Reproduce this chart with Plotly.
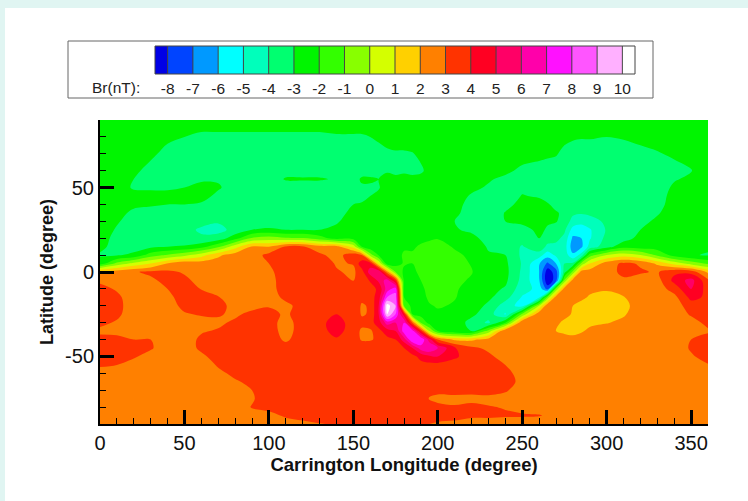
import plotly.graph_objects as go

# Latitude rows (deg), top to bottom
latitudes = [90,80,70,60,55, 50,45,40,35,30, 25,20,15,10,5, 0,-5,-10,-15,-20, -25,-30,-35,-40,-45, -50,-55,-60,-65,-70, -75,-80,-85,-90]

# Br (nT), one column per Carrington longitude
br_000 = [-2.5,-2.5,-2.5,-2.5,-2.5, -2.5,-2.5,-2.5,-2.5,-2.5, -2.5,-2.6,-2.8,-3.1,-2.6, 2.4,2.8,3.3,3.5,3.5, 3.4,3.2,2.8,3.3,3.6, 3.5,3.1,2.7,2.5,2.5, 2.5,2.5,2.5,2.5]
br_010 = [-2.5,-2.5,-2.5,-2.5,-2.5, -2.6,-2.6,-2.6,-2.7,-2.9, -3.1,-3.3,-3.3,-3.1,-0.7, 2.6,2.6,2.9,3.2,3.3, 3.2,2.9,2.8,3.2,3.5, 3.4,3.0,2.7,2.5,2.5, 2.5,2.5,2.5,2.5]
br_020 = [-2.5,-2.5,-2.5,-2.8,-3.0, -3.1,-2.7,-2.8,-3.2,-3.4, -3.5,-3.5,-3.4,-2.8,0.3, 2.9,2.5,2.5,2.5,2.5, 2.5,2.5,2.6,3.0,3.4, 3.1,2.7,2.5,2.5,2.5, 2.5,2.5,2.5,2.5]
br_030 = [-2.5,-2.5,-2.8,-3.3,-3.3, -3.1,-2.8,-2.9,-3.3,-3.5, -3.6,-3.6,-3.2,-1.5,1.0, 3.2,2.8,2.5,2.5,2.5, 2.5,2.5,2.6,3.0,3.1, 2.7,2.5,2.5,2.5,2.5, 2.5,2.5,2.5,2.5]
br_040 = [-2.5,-2.8,-3.3,-3.5,-3.4, -3.1,-2.8,-3.0,-3.4,-3.6, -3.7,-3.7,-3.0,-0.9,2.1, 3.2,3.3,3.0,2.7,2.5, 2.5,2.5,2.5,2.5,2.5, 2.5,2.5,2.5,2.5,2.5, 2.5,2.5,2.5,2.5]
br_050 = [-2.5,-3.0,-3.4,-3.6,-3.3, -3.0,-2.7,-3.0,-3.5,-3.7, -3.8,-3.7,-2.9,-0.3,2.7, 2.9,3.2,3.5,3.5,3.3, 2.9,2.6,2.5,2.5,2.5, 2.5,2.5,2.5,2.5,2.5, 2.5,2.5,2.5,2.5]
br_060 = [-2.5,-3.2,-3.6,-3.7,-3.1, -2.8,-2.7,-3.1,-3.5,-3.8, -4.1,-3.9,-2.4,0.6,2.5, 2.5,2.7,2.95,3.4,3.5, 3.1,2.6,2.9,3.2,3.2, 2.8,2.5,2.5,2.5,2.5, 2.5,2.5,2.5,2.5]
br_070 = [-2.5,-3.2,-3.6,-3.7,-3.1, -2.9,-3.2,-3.4,-3.6,-3.9, -4.3,-3.6,-1.2,1.8,2.5, 2.5,2.5,2.6,3.05,3.5, 3.1,2.8,3.1,3.5,3.6, 3.4,3.1,2.8,2.6,2.5, 2.5,2.5,2.5,2.5]
br_080 = [-2.5,-3.2,-3.6,-3.7,-3.5, -3.4,-3.5,-3.6,-3.7,-3.8, -3.7,-2.4,0.6,2.5,2.5, 2.5,2.5,2.5,2.5,2.5, 2.8,3.2,3.5,3.6,3.6, 3.6,3.6,3.2,2.9,2.6, 2.5,2.5,2.5,2.5]
br_090 = [-2.5,-3.2,-3.6,-3.7,-3.6, -3.6,-3.6,-3.6,-3.6,-3.7, -3.0,-0.9,2.1,2.5,2.5, 2.5,2.5,2.5,2.5,2.6, 3.3,3.5,3.6,3.6,3.6, 3.6,3.6,3.5,3.2,3.0, 2.9,3.05,2.7,2.5]
br_100 = [-2.5,-3.2,-3.6,-3.7,-3.6, -3.6,-3.6,-3.6,-3.6,-3.7, -2.8,-0.5,2.0,3.3,3.0, 2.7,2.5,2.5,2.6,2.9, 3.4,3.5,3.6,3.6,3.6, 3.6,3.6,3.6,3.6,3.6, 3.5,3.2,2.8,2.5]
br_110 = [-2.5,-3.2,-3.6,-3.4,-2.9, -3.5,-3.6,-3.6,-3.6,-3.6, -3.0,-0.9,3.1,3.6,3.7, 3.7,3.7,3.6,3.2,2.8, 2.8,2.5,2.5,2.8,3.5, 3.6,3.6,3.6,3.6,3.6, 3.6,3.5,3.1,2.7]
br_120 = [-2.5,-3.2,-3.6,-3.4,-2.9, -3.5,-3.6,-3.6,-3.6,-3.5, -3.0,-0.9,3.1,3.6,3.7, 3.7,3.7,3.6,3.4,3.3, 3.6,3.6,3.6,3.6,3.6, 3.6,3.6,3.6,3.6,3.6, 3.6,3.6,3.3,2.8]
br_130 = [-2.5,-3.2,-3.6,-3.4,-2.9, -3.5,-3.6,-3.6,-3.5,-3.3, -3.0,-1.6,2.4,3.2,3.6, 3.7,3.7,3.7,3.7,3.7, 3.7,3.8,3.7,3.7,3.7, 3.7,3.7,3.7,3.7,3.7, 3.7,3.7,3.6,2.95]
br_140 = [-2.5,-3.1,-3.5,-3.4,-3.1, -3.5,-3.6,-3.5,-3.4,-3.1, -2.8,-2.4,2.4,2.6,2.9, 3.1,3.6,3.7,3.7,3.7, 4.0,4.3,4.3,3.9,3.7, 3.7,3.7,3.7,3.7,3.7, 3.7,3.7,3.7,3.1]
br_150 = [-2.5,-3.1,-3.5,-3.4,-3.3, -3.5,-3.4,-3.0,-2.7,-2.6, -2.5,-2.4,0.6,3.6,3.05, 2.8,2.95,3.5,3.6,3.6, 3.7,3.7,3.6,3.5,3.6, 3.7,3.7,3.7,3.7,3.7, 3.7,3.7,3.7,3.4]
br_155 = [-2.5,-3.1,-3.4,-3.3,-2.9, -3.1,-3.3,-2.9,-2.6,-2.5, -2.5,-2.5,-2.0,3.0,4.6, 3.6,3.4,3.6,3.2,2.9, 2.9,3.3,2.8,2.9,3.6, 3.7,3.7,3.7,3.7,3.7, 3.7,3.7,3.7,3.5]
br_160 = [-2.5,-3.0,-3.3,-3.3,-2.9, -3.1,-3.0,-2.7,-2.5,-2.5, -2.5,-2.5,-2.7,-0.5,4.5, 5.5,4.1,3.6,3.5,3.1, 3.1,3.6,2.8,2.9,3.6, 3.7,3.7,3.7,3.7,3.7, 3.7,3.7,3.7,3.5]
br_165 = [-2.5,-2.9,-3.2,-3.3,-3.0, -3.05,-2.85,-2.6,-2.5,-2.5, -2.5,-2.5,-2.5,-2.1,0.9, 6.0,5.2,4.2,4.5,5.0, 5.0,4.5,3.7,3.2,3.6, 3.7,3.7,3.7,3.7,3.7, 3.7,3.7,3.7,3.6]
br_170 = [-2.5,-2.7,-3.15,-3.05,-2.85, -2.7,-2.6,-2.5,-2.5,-2.5, -2.5,-2.5,-2.5,-2.4,-2.5, 2.5,6.5,6.5,8.0,10.5, 10.0,6.5,4.5,3.7,3.6, 3.6,3.6,3.6,3.6,3.6, 3.6,3.6,3.6,3.6]
br_175 = [-2.5,-2.6,-3.1,-3.1,-2.9, -2.7,-2.6,-2.5,-2.5,-2.5, -2.5,-2.5,-2.4,-2.3,-2.4, -1.0,4.0,7.5,8.5,9.0, 8.0,6.0,5.0,4.0,3.7, 3.6,3.6,3.6,3.6,3.6, 3.6,3.6,3.6,3.6]
br_180 = [-2.5,-2.6,-3.1,-3.1,-2.8, -2.6,-2.5,-2.5,-2.5,-2.5, -2.4,-2.3,-2.1,-1.9,-1.9, -2.2,-2.2,-2.2,-2.0,-1.0, 4.5,7.0,7.5,5.5,4.0, 3.7,3.6,3.6,3.6,3.6, 3.6,3.6,3.6,3.6]
br_185 = [-2.5,-2.5,-3.05,-3.2,-2.8, -2.6,-2.5,-2.5,-2.5,-2.5, -2.4,-2.3,-2.1,-1.9,-2.0, -2.2,-2.3,-2.4,-2.4,-2.4, -2.0,3.0,7.5,8.0,5.0, 3.7,3.6,3.6,3.6,3.6, 3.6,3.6,3.6,3.6]
br_190 = [-2.5,-2.5,-2.8,-3.15,-2.7, -2.6,-2.5,-2.5,-2.5,-2.5, -2.5,-2.2,-1.9,-1.7,-1.7, -1.8,-2.0,-2.3,-2.4,-2.4, -2.4,-1.0,4.0,8.0,6.5, 4.3,3.7,3.6,3.6,3.6, 3.6,3.6,3.6,3.4]
br_195 = [-2.5,-2.5,-2.6,-2.7,-2.6, -2.5,-2.5,-2.5,-2.5,-2.5, -2.3,-2.15,-1.7,-1.5,-1.5, -1.5,-1.5,-1.6,-1.8,-2.1, -2.4,-2.4,0.0,5.5,7.0, 4.8,3.7,3.6,3.6,3.2, 2.95,3.3,3.3,3.0]
br_200 = [-2.5,-2.5,-2.5,-2.6,-2.6, -2.5,-2.5,-2.5,-2.5,-2.5, -2.4,-2.05,-1.6,-1.5,-1.5, -1.5,-1.5,-1.6,-1.7,-1.9, -2.2,-2.4,-2.0,3.0,6.0, 5.0,3.7,3.6,3.6,3.2, 2.8,3.2,3.3,2.9]
br_210 = [-2.5,-2.5,-2.5,-2.5,-2.6, -2.6,-2.6,-2.7,-2.8,-3.0, -2.9,-2.5,-2.1,-1.8,-1.7, -1.7,-1.8,-1.9,-1.95,-2.1, -2.3,-2.5,-2.7,1.8,4.1, 4.2,3.5,3.6,3.6,3.4, 2.7,3.1,3.3,2.8]
br_220 = [-2.5,-2.5,-2.5,-2.5,-2.6, -2.8,-3.1,-3.3,-3.4,-3.4, -3.2,-2.7,-2.4,-2.2,-2.05, -1.95,-2.1,-2.3,-2.4,-2.5, -2.8,-3.3,-3.0,1.8,3.2, 3.4,3.6,3.6,3.6,3.2, 2.8,3.2,3.2,2.5]
br_230 = [-2.5,-2.5,-2.5,-2.7,-2.9, -3.1,-3.4,-3.5,-3.6,-3.6, -3.5,-3.4,-3.1,-2.9,-2.8, -2.7,-2.6,-2.7,-2.8,-3.2, -3.5,-4.2,-0.6,2.4,2.8, 3.2,3.4,3.4,3.4,3.3, 2.8,3.05,3.2,2.5]
br_240 = [-2.5,-2.5,-2.5,-2.8,-3.2, -3.5,-3.5,-3.3,-2.95,-3.0, -3.4,-3.6,-3.3,-3.0,-2.8, -2.7,-2.8,-3.1,-3.6,-4.5, -5.1,-2.0,3.0,2.5,2.5, 2.6,3.0,3.3,3.3,3.1, 2.7,2.95,3.1,2.5]
br_250 = [-2.5,-2.5,-2.6,-3.2,-3.4, -3.2,-2.95,-2.7,-2.7,-2.8, -3.3,-3.6,-4.1,-4.2,-4.1, -4.2,-4.3,-4.6,-5.1,-5.4, -0.8,3.0,2.5,2.5,2.5, 2.5,2.5,2.6,2.8,2.6, 2.5,2.7,3.1,2.5]
br_260 = [-2.5,-2.5,-2.7,-3.4,-3.5, -3.4,-3.1,-2.7,-2.6,-2.6, -2.8,-3.0,-3.2,-4.6,-5.9, -6.0,-5.9,-5.3,-5.2,0.0, 2.8,2.5,2.5,2.5,2.5, 2.5,2.5,2.5,2.5,2.5, 2.5,2.6,3.05,2.5]
br_265 = [-2.5,-2.5,-2.8,-3.5,-3.5, -3.5,-3.4,-2.9,-2.7,-2.9, -3.1,-3.4,-4.3,-5.5,-7.2, -8.6,-8.8,-7.4,-0.7,2.8, 2.5,2.5,2.5,2.5,2.5, 2.5,2.5,2.5,2.5,2.5, 2.5,2.5,2.9,2.5]
br_270 = [-2.5,-2.5,-2.9,-3.6,-3.6, -3.6,-3.6,-3.3,-2.9,-2.95, -3.3,-3.7,-4.3,-4.8,-6.0, -7.5,-7.5,-0.7,2.5,2.5, 2.4,2.2,2.0,2.4,2.5, 2.5,2.5,2.5,2.5,2.5, 2.5,2.5,2.6,2.5]
br_275 = [-2.5,-2.7,-3.3,-3.7,-3.7, -3.7,-3.7,-3.6,-3.2,-3.3, -3.8,-4.3,-4.5,-4.4,-4.0, -3.4,-0.7,2.5,2.5,2.5, 2.3,1.8,1.8,2.4,2.5, 2.5,2.5,2.5,2.5,2.5, 2.5,2.5,2.5,2.5]
br_280 = [-2.5,-2.8,-3.7,-3.7,-3.7, -3.7,-3.7,-3.7,-3.8,-4.4, -5.4,-6.2,-6.6,-5.8,-3.8, -0.7,2.5,2.5,2.4,2.0, 1.9,1.7,1.7,2.3,2.5, 2.5,2.5,2.5,2.5,2.5, 2.5,2.5,2.5,2.5]
br_285 = [-2.5,-2.9,-3.7,-3.7,-3.7, -3.7,-3.7,-3.7,-3.9,-4.7, -5.5,-6.0,-6.2,-4.6,-0.7, 2.5,2.5,2.5,2.2,1.7, 1.6,1.6,1.9,2.4,2.5, 2.5,2.5,2.5,2.5,2.5, 2.5,2.5,2.5,2.5]
br_290 = [-2.5,-2.9,-3.6,-3.7,-3.7, -3.7,-3.7,-3.7,-3.8,-4.4, -5.1,-5.1,-4.6,-1.5,1.0, 2.5,2.4,2.2,1.9,1.6, 1.5,1.8,2.2,2.5,2.5, 2.5,2.5,2.5,2.5,2.5, 2.5,2.5,2.5,2.5]
br_300 = [-2.5,-3.0,-3.6,-3.7,-3.7, -3.7,-3.7,-3.7,-3.7,-3.8, -3.9,-3.7,-3.4,0.0,2.5, 2.5,2.4,2.1,1.7,1.5, 1.5,1.95,2.4,2.5,2.5, 2.5,2.5,2.5,2.5,2.5, 2.5,2.5,2.5,2.5]
br_310 = [-2.5,-2.9,-3.5,-3.7,-3.6, -3.6,-3.6,-3.6,-3.6,-3.6, -3.5,-3.4,-2.4,0.6,3.2, 3.3,2.8,2.4,1.95,1.7, 1.9,2.2,2.5,2.5,2.5, 2.5,2.5,2.5,2.5,2.5, 2.5,2.5,2.5,2.5]
br_320 = [-2.5,-2.7,-3.3,-3.6,-3.6, -3.6,-3.6,-3.6,-3.5,-3.3, -3.0,-2.7,-2.6,0.0,2.9, 3.1,2.6,2.5,2.5,2.5, 2.5,2.5,2.5,2.5,2.5, 2.5,2.5,2.5,2.5,2.5, 2.5,2.5,2.5,2.5]
br_330 = [-2.5,-2.5,-3.1,-3.6,-3.6, -3.6,-3.5,-3.4,-3.1,-2.8, -2.6,-2.5,-2.5,-1.2,1.8, 2.9,2.6,2.5,2.5,2.5, 2.5,2.5,2.5,2.5,2.5, 2.5,2.5,2.5,2.5,2.5, 2.5,2.5,2.5,2.5]
br_340 = [-2.5,-2.5,-2.8,-3.4,-3.1, -2.8,-2.6,-2.5,-2.5,-2.5, -2.5,-2.5,-2.5,-2.4,0.6, 3.8,4.3,3.4,2.7,2.5, 2.5,2.5,2.5,2.5,2.5, 2.5,2.5,2.5,2.5,2.5, 2.5,2.5,2.5,2.5]
br_350 = [-2.5,-2.5,-2.6,-3.05,-2.8, -2.6,-2.5,-2.5,-2.5,-2.5, -2.5,-2.5,-2.6,-2.9,-0.4, 3.6,5.4,5.0,4.3,3.5, 3.1,2.7,2.6,3.0,3.1, 2.9,2.5,2.5,2.5,2.5, 2.5,2.5,2.5,2.5]
br_360 = [-2.5,-2.5,-2.5,-2.5,-2.5, -2.5,-2.5,-2.5,-2.5,-2.5, -2.5,-2.6,-2.8,-3.1,-1.2, 1.8,3.2,3.6,3.8,3.7, 3.5,3.2,2.9,3.3,3.5, 3.3,2.95,2.6,2.5,2.5, 2.5,2.5,2.5,2.5]

longitudes = [0,10,20,30,40,50,60,70,80,90,100,110,120,130,140,150,155,160,165,170,175,180,185,190,195,200,210,220,230,240,250,260,265,270,275,280,285,290,300,310,320,330,340,350,360]
columns = [br_000,br_010,br_020,br_030,br_040,br_050,br_060,br_070,br_080,br_090,br_100,br_110,br_120,br_130,br_140,br_150,br_155,br_160,br_165,br_170,br_175,br_180,br_185,br_190,br_195,br_200,br_210,br_220,br_230,br_240,br_250,br_260,br_265,br_270,br_275,br_280,br_285,br_290,br_300,br_310,br_320,br_330,br_340,br_350,br_360]
assert all(len(c) == len(latitudes) for c in columns) and len(columns) == len(longitudes)
z_rows = [list(r) for r in zip(*columns)]

# Legend: one colour per band, from below -8 to above 10
band_colors = ["#0000e6","#0044ff","#0099ff","#00ffff","#00ffbb","#00ff70","#00f500","#33ff00","#88ff00","#d4ff00",
               "#ffd000","#ff8000","#ff3300","#ff0022","#ff0066","#ff00aa","#ff11ff","#ff55ff","#ffb0ff","#ffffff"]
legend_levels = [-8,-7,-6,-5,-4,-3,-2,-1,0,1,2,3,4,5,6,7,8,9,10]
legend_edges = [-8.5] + legend_levels + [10.5]
legend_mid = [-8.5,-7.5,-6.5,-5.5,-4.5,-3.5,-2.5,-1.5,-0.5,0.5,1.5,2.5,3.5,4.5,5.5,6.5,7.5,8.5,9.5,10.5]
lat_ticks = [-50, 0, 50]
lat_labels = ["-50", "0", "50"]

n = len(band_colors)
scale = [[i/(n-1), c] for i, c in enumerate(band_colors)]

W, H = 748, 501
px = lambda v: v/W
py = lambda v: 1 - v/H
FONT = "Liberation Sans, Arial, sans-serif"

fig = go.Figure()
fig.add_trace(go.Contour(
    x=longitudes, y=latitudes, z=z_rows,
    autocontour=False,
    contours=dict(start=-8, end=10, size=1, coloring="fill", showlines=False),
    line=dict(width=0),
    colorscale=scale, zmin=-8.5, zmax=10.5, showscale=False, hoverinfo="skip",
))
fig.add_trace(go.Heatmap(
    x=legend_edges, y=[0, 1], z=[legend_mid],
    colorscale=scale, zmin=-8.5, zmax=10.5, showscale=False, hoverinfo="skip",
    xaxis="x2", yaxis="y2",
))
sep_x, sep_y = [], []
for lv in legend_levels:
    sep_x += [lv, lv, None]
    sep_y += [0, 1, None]
fig.add_trace(go.Scatter(x=sep_x, y=sep_y, mode="lines", line=dict(color="#444444", width=1),
                         hoverinfo="skip", xaxis="x2", yaxis="y2"))

axis_common = dict(
    automargin=False,
    showgrid=False, zeroline=False, showline=True, linecolor="black", linewidth=2,
    ticks="inside", ticklen=14, tickwidth=3, tickcolor="black",
    tickfont=dict(family=FONT, size=20, color="#111"),
    minor=dict(tickmode="linear", tick0=0, dtick=10, ticks="inside", ticklen=6, tickwidth=1, tickcolor="black", showgrid=False),
)
fig.update_layout(
    template="none",
    width=W, height=H, autosize=False,
    margin=dict(l=0, r=0, t=0, b=0),
    paper_bgcolor="#e0f5f2", plot_bgcolor="#ffffff",
    showlegend=False,
    xaxis=dict(domain=[px(100), px(708)], range=[0, 360], tick0=0, dtick=50,
               title=dict(text="<b>Carrington Longitude (degree)</b>", font=dict(family=FONT, size=18.5, color="#111"), standoff=0),
               **axis_common),
    yaxis=dict(domain=[py(424), py(120)], range=[-90, 90], tickmode="array", tickvals=lat_ticks, ticktext=lat_labels,
               title=dict(text="<b>Latitude (degree)</b>", font=dict(family=FONT, size=18, color="#111"), standoff=7),
               **axis_common),
    xaxis2=dict(domain=[px(155), px(635)], range=[-8.5, 10.5], anchor="y2", automargin=False,
                tickmode="array", tickvals=legend_levels, ticktext=[str(v) for v in legend_levels],
                ticks="", showgrid=False, zeroline=False, showline=False, ticklabelstandoff=3,
                tickfont=dict(family=FONT, size=15.5, color="#222")),
    yaxis2=dict(domain=[py(74), py(46)], range=[0, 1], anchor="x2", visible=False),
    shapes=[
        dict(type="rect", xref="paper", yref="paper", x0=px(5), x1=1, y0=0, y1=py(8),
             fillcolor="white", line=dict(width=0), layer="below"),
        dict(type="rect", xref="paper", yref="paper", x0=px(68), x1=px(653), y0=py(98), y1=py(41),
             fillcolor="white", line=dict(color="#666666", width=1), layer="below"),
        dict(type="rect", xref="paper", yref="paper", x0=px(155), x1=px(635), y0=py(74), y1=py(46),
             fillcolor="rgba(0,0,0,0)", line=dict(color="#444444", width=1), layer="above"),
    ],
    annotations=[
        dict(text="Br(nT):", xref="paper", yref="paper", x=px(116), y=py(88), showarrow=False,
             xanchor="center", yanchor="middle", font=dict(family=FONT, size=15.5, color="#222")),
    ],
)
fig.write_html("out.html", config=dict(displayModeBar=False),
               post_script="document.body.style.margin='0';document.body.style.background='#ffffff';")
